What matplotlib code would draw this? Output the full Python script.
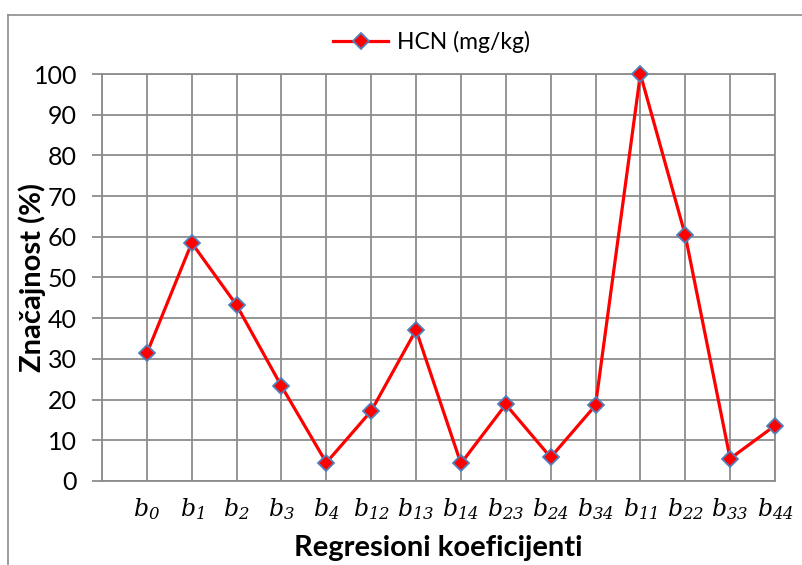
import matplotlib
matplotlib.use("Agg")
import matplotlib.pyplot as plt
from matplotlib.lines import Line2D

# Regression coefficients and their significance for HCN
coefs = ["0", "1", "2", "3", "4", "12", "13", "14", "23", "24", "34", "11", "22", "33", "44"]
hcn = [31.4, 58.5, 43.2, 23.3, 4.5, 17.2, 37.1, 4.3, 18.8, 5.8, 18.6, 100.0, 60.4, 5.5, 13.6]
y_ticks = [0, 10, 20, 30, 40, 50, 60, 70, 80, 90, 100]

plt.rcParams["font.family"] = ["Lato", "DejaVu Sans"]
# italic serif for the coefficient names, subscripts included
plt.rcParams["mathtext.fontset"] = "custom"
plt.rcParams["mathtext.rm"] = "DejaVu Serif:italic"
plt.rcParams["mathtext.it"] = "DejaVu Serif:italic"

fig = plt.figure(figsize=(8.02, 5.65), dpi=100)
ax = fig.add_axes([0.1272, 0.1487, 0.9663 - 0.1272, 0.869 - 0.1487])

grid_c = "#8c8c8c"
x = list(range(1, len(coefs) + 1))
ax.plot(x, hcn, color="red", lw=2.3, marker="D", ms=8.5,
        mfc="red", mec="#4f81bd", mew=1.3, label="HCN (mg/kg)", zorder=3,
        clip_on=False)

ax.set_xlim(0, len(coefs))
ax.set_ylim(0, 100)
ax.set_yticks(y_ticks)
ax.set_xticks(range(0, len(coefs) + 1))
ax.set_xticklabels([""] + [f"$b_{{{c}}}$" for c in coefs], fontsize=17)
ax.tick_params(axis="x", length=0, pad=11)
ax.tick_params(axis="y", length=7, width=1.3, color=grid_c, labelsize=18, pad=11)

ax.grid(True, color=grid_c, lw=1.3)
ax.set_axisbelow(True)
for s in ax.spines.values():
    s.set_color(grid_c)
    s.set_linewidth(1.3)

ax.set_ylabel("Značajnost (%)", fontsize=21, fontweight="bold", labelpad=-9)
ax.set_xlabel("Regresioni koeficijenti", fontsize=21, fontweight="bold", labelpad=9)

ax.legend(loc="lower center", bbox_to_anchor=(0.49, 1.0), frameon=False,
          fontsize=16.5, handlelength=2.4, handletextpad=0.4, borderaxespad=0.5)

# chart frame (top and left edges)
fig.add_artist(Line2D([8 / 802, 1.0], [1 - 14.5 / 565] * 2, color=grid_c, lw=1.2))
fig.add_artist(Line2D([8 / 802] * 2, [0.0, 1 - 14.5 / 565], color=grid_c, lw=1.2))

fig.savefig("out.png", dpi=100)
